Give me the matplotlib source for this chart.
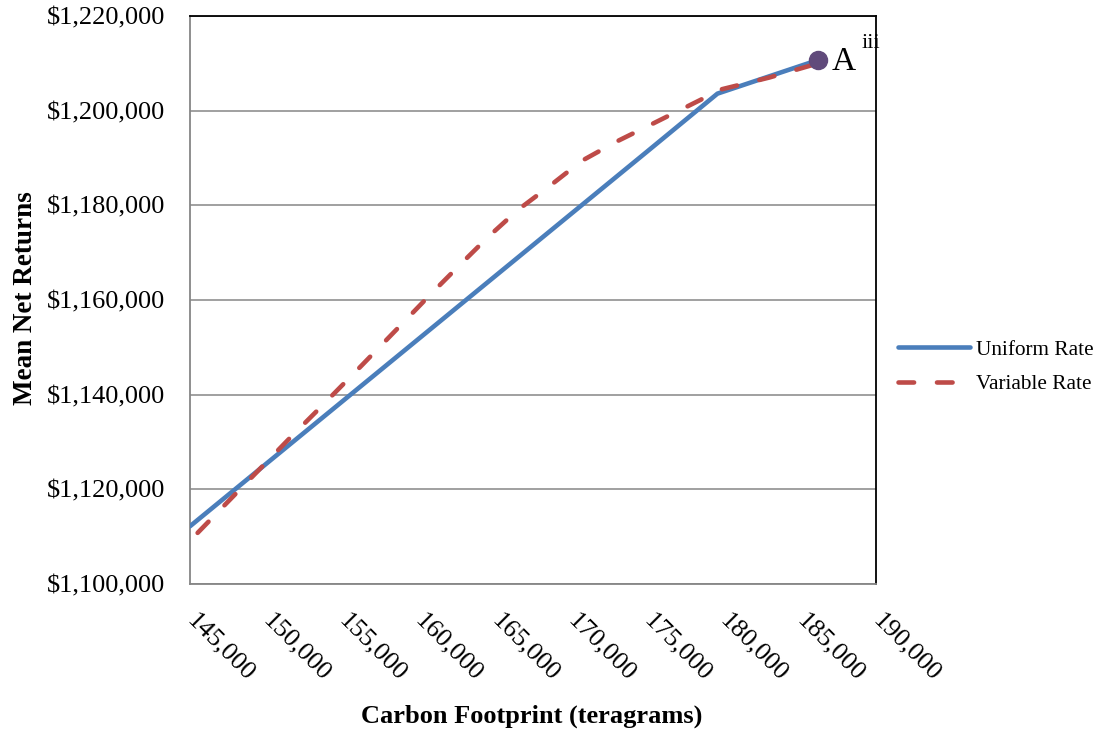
import matplotlib
matplotlib.use("Agg")
import matplotlib.pyplot as plt
import matplotlib.transforms as mtransforms
from matplotlib.ticker import FuncFormatter, MultipleLocator

plt.rcParams['font.family'] = ['Liberation Serif', 'DejaVu Serif']

# Data
uniform_x = [145000, 150000, 155000, 160000, 165000, 170000, 175000, 179600, 186200]
uniform_y = [1112200, 1125400, 1138600, 1151800, 1165000, 1178200, 1191400, 1203600, 1210700]

variable_x = [145500, 149700, 151600, 153400, 156300, 159100, 160750, 162700, 164550,
              166500, 168600, 170700, 173000, 175200, 178500, 179600, 183000, 186000]
variable_y = [1110800, 1124700, 1131000, 1136800, 1146300, 1155600, 1161100, 1167400, 1173300,
              1179000, 1184100, 1189400, 1193500, 1197000, 1202300, 1204300, 1207000, 1209800]

point_x = [186200]
point_y = [1210700]
point_label = "A"
point_sup = "iii"

series_names = ["Uniform Rate", "Variable Rate"]
x_title = "Carbon Footprint (teragrams)"
y_title = "Mean Net Returns"

fig = plt.figure(figsize=(11.02, 7.34), dpi=100)
ax = fig.add_axes([190/1102, 1-584/734, (876-190)/1102, (584-16)/734])

ax.plot(uniform_x, uniform_y, color='#4A7EBB', lw=3.3, solid_capstyle='round',
        label=series_names[0], zorder=3)
ax.plot(variable_x, variable_y, color='#BE4B48', lw=3.3, linestyle=(0, (3.4, 5.0)),
        dash_capstyle='round', label=series_names[1], zorder=4)
ax.plot(point_x, point_y, 'o', color='#604A7B', markersize=13, zorder=5)
ax.annotate(point_label, (point_x[0], point_y[0]), xytext=(10, -1), textcoords='offset points',
            ha='left', va='center', fontsize=24, zorder=6)
ax.annotate(point_sup, (point_x[0], point_y[0]), xytext=(31, 12), textcoords='offset points',
            ha='left', va='center', fontsize=16, zorder=6)

ax.set_xlim(145000, 190000)
ax.set_ylim(1100000, 1220000)
ax.xaxis.set_major_locator(MultipleLocator(5000))
ax.yaxis.set_major_locator(MultipleLocator(20000))
ax.xaxis.set_major_formatter(FuncFormatter(lambda v, p: f"{int(round(v)):,}"))
ax.yaxis.set_major_formatter(FuncFormatter(lambda v, p: f"${int(round(v)):,}"))

ax.grid(axis='y', color='#868686', lw=1.1)
ax.set_axisbelow(True)
for s in ['left', 'bottom']:
    ax.spines[s].set_color('#868686')
    ax.spines[s].set_linewidth(1.3)
for s in ['top', 'right']:
    ax.spines[s].set_color('black')
    ax.spines[s].set_linewidth(1.3)

ax.tick_params(axis='y', length=0, pad=18, labelsize=19)
ax.tick_params(axis='x', length=0, pad=18, labelsize=19)
shift = mtransforms.ScaledTranslation(8/100, 0, fig.dpi_scale_trans)
for lab in ax.get_xticklabels():
    lab.set_rotation(-45)
    lab.set_ha('left')
    lab.set_va('top')
    lab.set_rotation_mode('anchor')
    lab.set_transform(lab.get_transform() + shift)

fig.text(532/1102, 1-716/734, x_title, ha='center', va='center', fontsize=19, fontweight='bold')
fig.text(26/1102, 1-298/734, y_title, ha='center', va='center', fontsize=19.5,
         fontweight='bold', rotation=90)

fig.legend(loc='center left', bbox_to_anchor=(898/1102, 1-367/734), frameon=False,
           fontsize=15.3, handlelength=3.4, handletextpad=0.25, labelspacing=0.7,
           borderpad=0, borderaxespad=0)

fig.savefig('out.png', dpi=100)
